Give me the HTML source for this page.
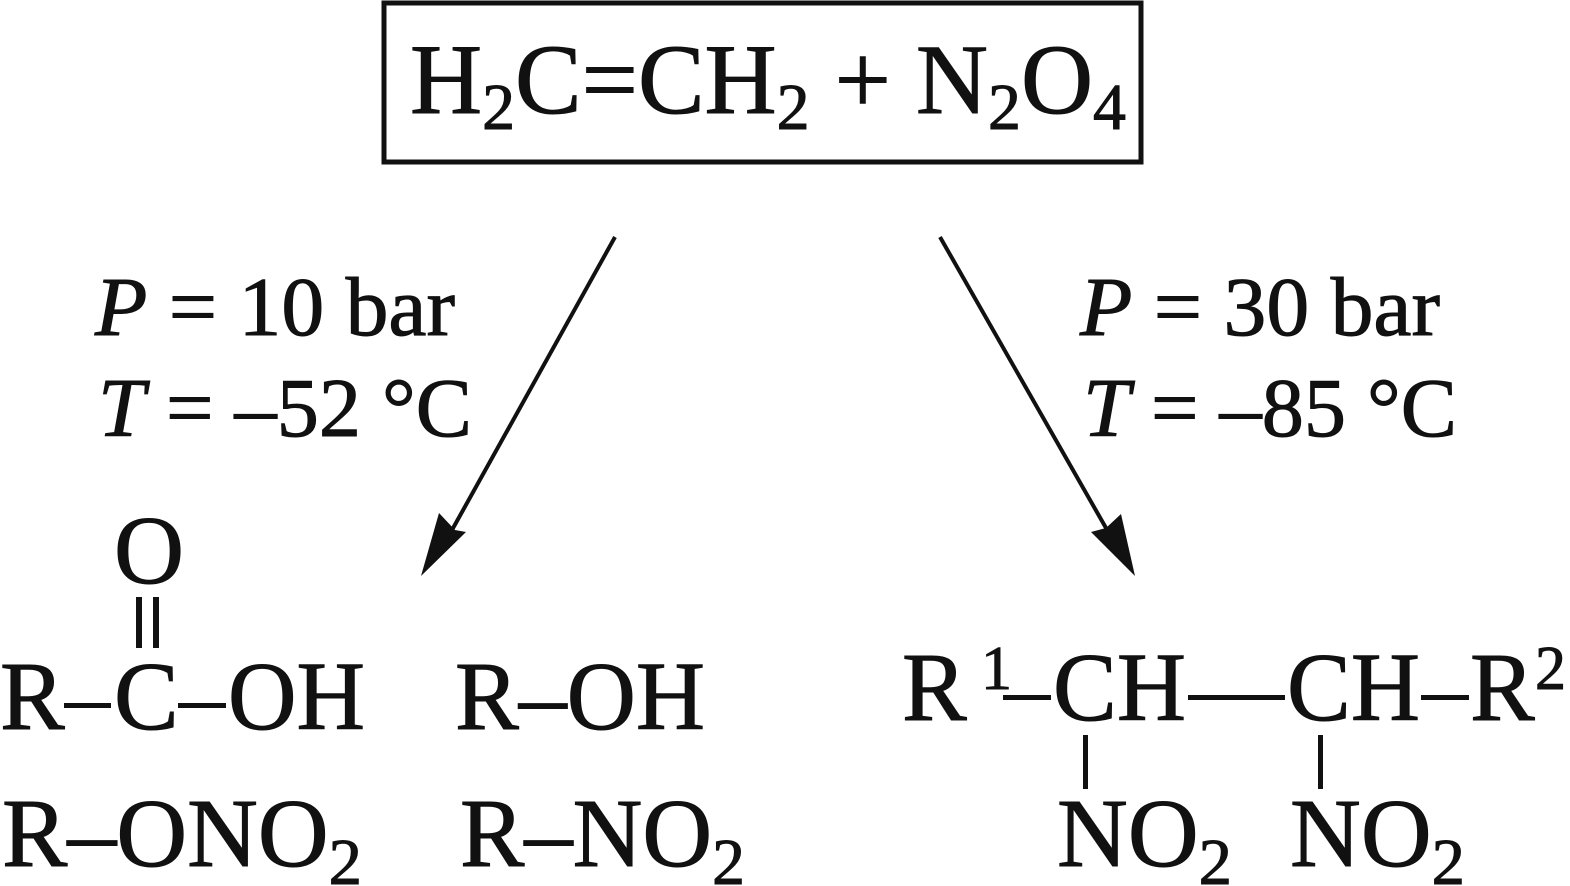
<!DOCTYPE html>
<html><head><meta charset="utf-8"><style>
html,body{margin:0;padding:0;background:#fff;}
svg{display:block;}
text{font-family:"Liberation Serif",serif;fill:#111;stroke:#111;stroke-width:1;}
</style></head><body>
<svg width="1570" height="886" viewBox="0 0 1570 886" xmlns="http://www.w3.org/2000/svg">
<rect x="384" y="3" width="757" height="159" fill="none" stroke="#111" stroke-width="5"/>
<text x="410" y="113" font-size="100" textLength="716" lengthAdjust="spacingAndGlyphs">H<tspan font-size="66" dy="16">2</tspan><tspan dy="-16">C=CH</tspan><tspan font-size="66" dy="16">2</tspan><tspan dy="-16"> + N</tspan><tspan font-size="66" dy="16">2</tspan><tspan dy="-16">O</tspan><tspan font-size="66" dy="16">4</tspan></text>

<line x1="615" y1="237" x2="452" y2="530" stroke="#111" stroke-width="4"/>
<polygon points="421,576 439,513 455,530 466,532" fill="#111"/>
<line x1="940" y1="237" x2="1106" y2="528" stroke="#111" stroke-width="4"/>
<polygon points="1135,576 1091,532 1106,528 1121,514" fill="#111"/>

<text x="95" y="335" font-size="84" textLength="360" lengthAdjust="spacingAndGlyphs"><tspan font-style="italic">P</tspan> = 10 bar</text>
<text x="98" y="436" font-size="84" textLength="374" lengthAdjust="spacingAndGlyphs"><tspan font-style="italic">T</tspan> = –52 °C</text>
<text x="1080" y="335" font-size="84" textLength="360" lengthAdjust="spacingAndGlyphs"><tspan font-style="italic">P</tspan> = 30 bar</text>
<text x="1083" y="436" font-size="84" textLength="374" lengthAdjust="spacingAndGlyphs"><tspan font-style="italic">T</tspan> = –85 °C</text>

<text x="114" y="583" font-size="97">O</text>
<rect x="136" y="597" width="6" height="51" fill="#111"/>
<rect x="153" y="597" width="6" height="51" fill="#111"/>
<text x="0" y="729" font-size="97">R</text>
<rect x="64" y="703" width="47" height="5" fill="#111"/>
<text x="114" y="729" font-size="97">C</text>
<rect x="178" y="703" width="48" height="5" fill="#111"/>
<text x="228" y="729" font-size="97" textLength="137" lengthAdjust="spacingAndGlyphs">OH</text>

<text x="455" y="729" font-size="97" textLength="250" lengthAdjust="spacingAndGlyphs">R–OH</text>
<text x="2" y="866" font-size="97" textLength="360" lengthAdjust="spacingAndGlyphs">R–ONO<tspan font-size="66" dy="18">2</tspan></text>
<text x="460" y="866" font-size="97" textLength="285" lengthAdjust="spacingAndGlyphs">R–NO<tspan font-size="66" dy="18">2</tspan></text>

<text x="902" y="720" font-size="97">R</text>
<text x="981" y="689" font-size="62">1</text>
<rect x="1003" y="695" width="48" height="5" fill="#111"/>
<text x="1053" y="720" font-size="97" textLength="133" lengthAdjust="spacingAndGlyphs">CH</text>
<rect x="1188" y="695" width="97" height="5" fill="#111"/>
<text x="1287" y="720" font-size="97" textLength="133" lengthAdjust="spacingAndGlyphs">CH</text>
<rect x="1421" y="695" width="48" height="5" fill="#111"/>
<text x="1470" y="720" font-size="97">R</text>
<text x="1535" y="689" font-size="62">2</text>
<rect x="1083" y="735" width="5" height="54" fill="#111"/>
<rect x="1318" y="735" width="5" height="54" fill="#111"/>
<text x="1057" y="866" font-size="97" textLength="175" lengthAdjust="spacingAndGlyphs">NO<tspan font-size="66" dy="18">2</tspan></text>
<text x="1290" y="866" font-size="97" textLength="175" lengthAdjust="spacingAndGlyphs">NO<tspan font-size="66" dy="18">2</tspan></text>
</svg>
</body></html>
